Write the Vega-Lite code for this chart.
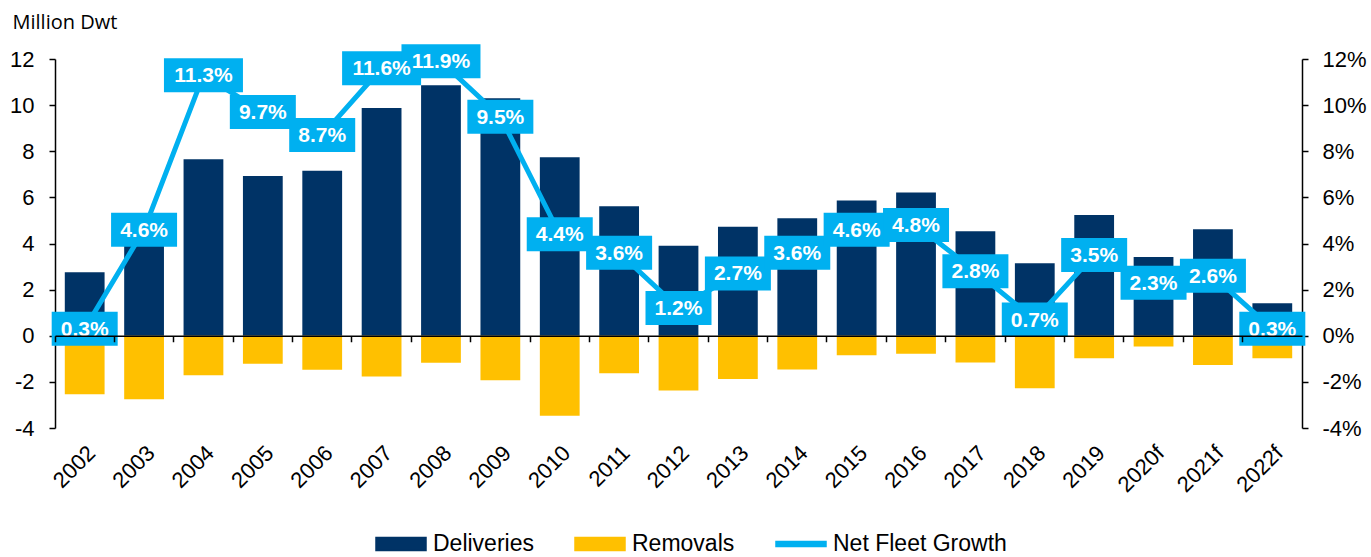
{
  "$schema": "https://vega.github.io/schema/vega-lite/v6.json",
  "autosize": "none",
  "width": 1247,
  "height": 369,
  "padding": {"left": 55, "top": 59, "right": 69, "bottom": 129},
  "background": "white",
  "config": {
    "view": {"stroke": null},
    "font": "Liberation Sans",
    "axis": {"grid": false, "domainColor": "#000", "tickColor": "#000", "domainWidth": 1.5, "tickWidth": 1.5, "labelColor": "#000", "labelFont": "Liberation Sans", "labelFontSize": 22}
  },
  "data": {
    "values": [
      {"year": "2002", "Deliveries": 2.75, "Removals": -2.54, "growth": 0.003},
      {"year": "2003", "Deliveries": 4.3, "Removals": -2.75, "growth": 0.046},
      {"year": "2004", "Deliveries": 7.65, "Removals": -1.71, "growth": 0.113},
      {"year": "2005", "Deliveries": 6.93, "Removals": -1.21, "growth": 0.097},
      {"year": "2006", "Deliveries": 7.15, "Removals": -1.47, "growth": 0.087},
      {"year": "2007", "Deliveries": 9.87, "Removals": -1.77, "growth": 0.116},
      {"year": "2008", "Deliveries": 10.86, "Removals": -1.17, "growth": 0.119},
      {"year": "2009", "Deliveries": 10.3, "Removals": -1.93, "growth": 0.095},
      {"year": "2010", "Deliveries": 7.74, "Removals": -3.47, "growth": 0.044},
      {"year": "2011", "Deliveries": 5.62, "Removals": -1.63, "growth": 0.036},
      {"year": "2012", "Deliveries": 3.9, "Removals": -2.37, "growth": 0.012},
      {"year": "2013", "Deliveries": 4.73, "Removals": -1.88, "growth": 0.027},
      {"year": "2014", "Deliveries": 5.1, "Removals": -1.46, "growth": 0.036},
      {"year": "2015", "Deliveries": 5.86, "Removals": -0.85, "growth": 0.046},
      {"year": "2016", "Deliveries": 6.21, "Removals": -0.78, "growth": 0.048},
      {"year": "2017", "Deliveries": 4.53, "Removals": -1.16, "growth": 0.028},
      {"year": "2018", "Deliveries": 3.14, "Removals": -2.28, "growth": 0.007},
      {"year": "2019", "Deliveries": 5.24, "Removals": -0.98, "growth": 0.035},
      {"year": "2020f", "Deliveries": 3.42, "Removals": -0.47, "growth": 0.023},
      {"year": "2021f", "Deliveries": 4.62, "Removals": -1.27, "growth": 0.026},
      {"year": "2022f", "Deliveries": 1.41, "Removals": -0.98, "growth": 0.003}
    ]
  },
  "layer": [
    {
      "transform": [{"fold": ["Deliveries", "Removals"], "as": ["series", "value"]}],
      "mark": {"type": "bar", "width": {"band": 0.67}},
      "encoding": {
        "x": {"field": "year", "type": "nominal", "sort": null, "scale": {"paddingInner": 0, "paddingOuter": 0}, "axis": {"orient": "bottom", "offset": -92.25, "labels": false, "title": null, "bandPosition": 0, "tickSize": 6, "zindex": 1}},
        "y": {"field": "value", "type": "quantitative", "stack": null, "scale": {"domain": [-4, 12], "nice": false}, "axis": {"values": [-4, -2, 0, 2, 4, 6, 8, 10, 12], "labelExpr": "datum.value + ''", "tickSize": 6, "labelPadding": 15, "title": "Million Dwt", "titleAngle": 0, "titleAlign": "left", "titleBaseline": "alphabetic", "titleX": -43, "titleY": -31, "titleFont": "Open Sans", "titleFontSize": 20, "titleFontWeight": "normal", "titleColor": "#000"}},
        "color": {"field": "series", "type": "nominal", "scale": {"domain": ["Deliveries", "Removals", "Net Fleet Growth"], "range": ["#003366", "#FFC000", "#00B0F0"]},
          "legend": {"orient": "none", "legendX": 320, "legendY": 459, "direction": "horizontal", "title": null, "labelFont": "Liberation Sans", "labelFontSize": 23, "labelLimit": 400, "labelColor": "#000", "labelOffset": 6, "columnPadding": 38, "symbolSize": 2500,
            "symbolType": "M-1,-0.26L1,-0.26L1,0.26L-1,0.26Z",
            "encode": {"symbols": {"update": {"shape": {"signal": "datum.value === 'Net Fleet Growth' ? 'M-1,-0.1L1,-0.1L1,0.1L-1,0.1Z' : 'M-1,-0.26L1,-0.26L1,0.26L-1,0.26Z'"}, "fill": {"scale": "color", "field": "value"}, "stroke": {"value": null}, "opacity": {"value": 1}, "fillOpacity": {"value": 1}}}}}}
      }
    },
    {
      "mark": {"type": "line", "color": "#00B0F0", "strokeWidth": 5},
      "encoding": {
        "x": {"field": "year", "type": "nominal", "sort": null, "axis": {"orient": "bottom", "labelAngle": -45, "domain": false, "ticks": false, "labelPadding": 14, "title": null}},
        "y": {"field": "growth", "type": "quantitative", "scale": {"domain": [-0.04, 0.12], "nice": false}, "axis": {"orient": "right", "values": [-0.04, -0.02, 0, 0.02, 0.04, 0.06, 0.08, 0.1, 0.12], "labelExpr": "round(datum.value * 100) + '%'", "tickSize": 6, "labelPadding": 14, "title": null}},
        "color": {"datum": "Net Fleet Growth", "type": "nominal"}
      }
    },
    {
      "mark": {"type": "point", "filled": true, "opacity": 1, "color": "#00B0F0", "size": 4356, "strokeWidth": 0},
      "encoding": {
        "x": {"field": "year", "type": "nominal", "sort": null, "axis": null},
        "y": {"field": "growth", "type": "quantitative", "scale": {"domain": [-0.04, 0.12], "nice": false}, "axis": null},
        "shape": {"condition": {"test": "datum.growth >= 0.1", "value": "M-1.197,-0.515L1.197,-0.515L1.197,0.515L-1.197,0.515Z"}, "value": "M-1,-0.515L1,-0.515L1,0.515L-1,0.515Z"}
      }
    },
    {
      "mark": {"type": "text", "color": "white", "fontWeight": "bold", "fontSize": 21, "font": "Liberation Sans", "align": "center", "baseline": "middle", "dy": 1},
      "encoding": {
        "x": {"field": "year", "type": "nominal", "sort": null, "axis": null},
        "y": {"field": "growth", "type": "quantitative", "scale": {"domain": [-0.04, 0.12], "nice": false}, "axis": null},
        "text": {"field": "growth", "type": "quantitative", "format": ".1%"}
      }
    }
  ],
  "resolve": {"axis": {"x": "independent", "y": "independent"}, "scale": {"y": "independent"}}
}
